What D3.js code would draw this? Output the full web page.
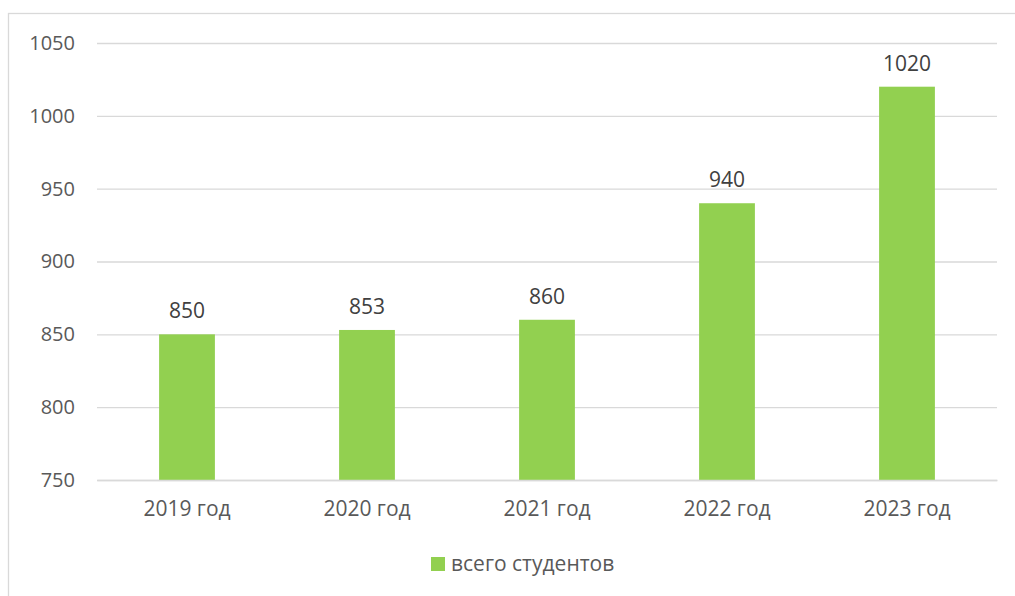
<!DOCTYPE html>
<html>
<head>
<meta charset="utf-8">
<script src="https://cdn.jsdelivr.net/npm/d3@7"></script>
<style>
  html, body { margin: 0; padding: 0; background: #fff; }
  svg { display: block; }
</style>
</head>
<body>
<div id="chart"></div>
<script>
// --- Data ---
const years = ["2019 год", "2020 год", "2021 год", "2022 год", "2023 год"];
const students = [850, 853, 860, 940, 1020];
const yTicks = [750, 800, 850, 900, 950, 1000, 1050];
const seriesName = "всего студентов";

const W = 1015, H = 596;
const margin = { top: 43, right: 18, bottom: 116, left: 97 };
const textColor = "#595959";
const gridColor = "#d9d9d9";
const barColor = "#92d050";
const font = "'Open Sans', 'DejaVu Sans', sans-serif";

const svg = d3.select("#chart").append("svg")
    .attr("width", W)
    .attr("height", H);

// outer chart border (right and bottom edges fall outside the window)
svg.append("rect")
    .attr("x", 8.5).attr("y", 13.5)
    .attr("width", W).attr("height", H)
    .attr("fill", "none")
    .attr("stroke", gridColor)
    .attr("stroke-width", 1.3);

const plotW = W - margin.left - margin.right;
const plotH = H - margin.top - margin.bottom;

const x = d3.scaleBand().domain(years).range([0, plotW]).paddingInner(0.69).paddingOuter(0.345);
const y = d3.scaleLinear().domain([750, 1050]).range([plotH, 0]);

const g = svg.append("g").attr("transform", `translate(${margin.left},${margin.top})`);

// grid lines + y labels
const yAxis = d3.axisLeft(y).tickValues(yTicks).tickSize(-plotW).tickPadding(22).tickFormat(d3.format("d"));
g.append("g").call(yAxis)
    .call(a => a.select(".domain").remove())
    .call(a => a.selectAll("line").attr("stroke", gridColor).attr("stroke-width", 1.3))
    .call(a => a.selectAll("text").attr("fill", textColor).style("font-family", font).style("font-size", "20px"));

// bars
g.selectAll(".bar")
    .data(students)
    .join("rect")
    .attr("class", "bar")
    .attr("x", (d, i) => x(years[i]))
    .attr("y", d => y(d))
    .attr("width", x.bandwidth())
    .attr("height", d => plotH - y(d))
    .attr("fill", barColor);

// value labels
g.selectAll(".val")
    .data(students)
    .join("text")
    .attr("class", "val")
    .attr("x", (d, i) => x(years[i]) + x.bandwidth() / 2)
    .attr("y", d => y(d) - 16)
    .attr("text-anchor", "middle")
    .attr("fill", "#404040")
    .style("font-family", font)
    .style("font-size", "21px")
    .text(d => d);

// x labels
const xAxis = d3.axisBottom(x).tickSize(0).tickPadding(21);
g.append("g").attr("transform", `translate(0,${plotH})`).call(xAxis)
    .call(a => a.select(".domain").attr("stroke", gridColor).attr("stroke-width", 1.3))
    .call(a => a.selectAll("text").attr("fill", textColor).style("font-family", font).style("font-size", "21px"));

// legend
const legend = svg.append("g").attr("transform", "translate(431,557)");
legend.append("rect").attr("width", 14).attr("height", 14).attr("fill", barColor);
legend.append("text")
    .attr("x", 20).attr("y", 7).attr("dy", "0.35em")
    .attr("fill", textColor)
    .style("font-family", font)
    .style("font-size", "21px")
    .text(seriesName);
</script>
</body>
</html>
